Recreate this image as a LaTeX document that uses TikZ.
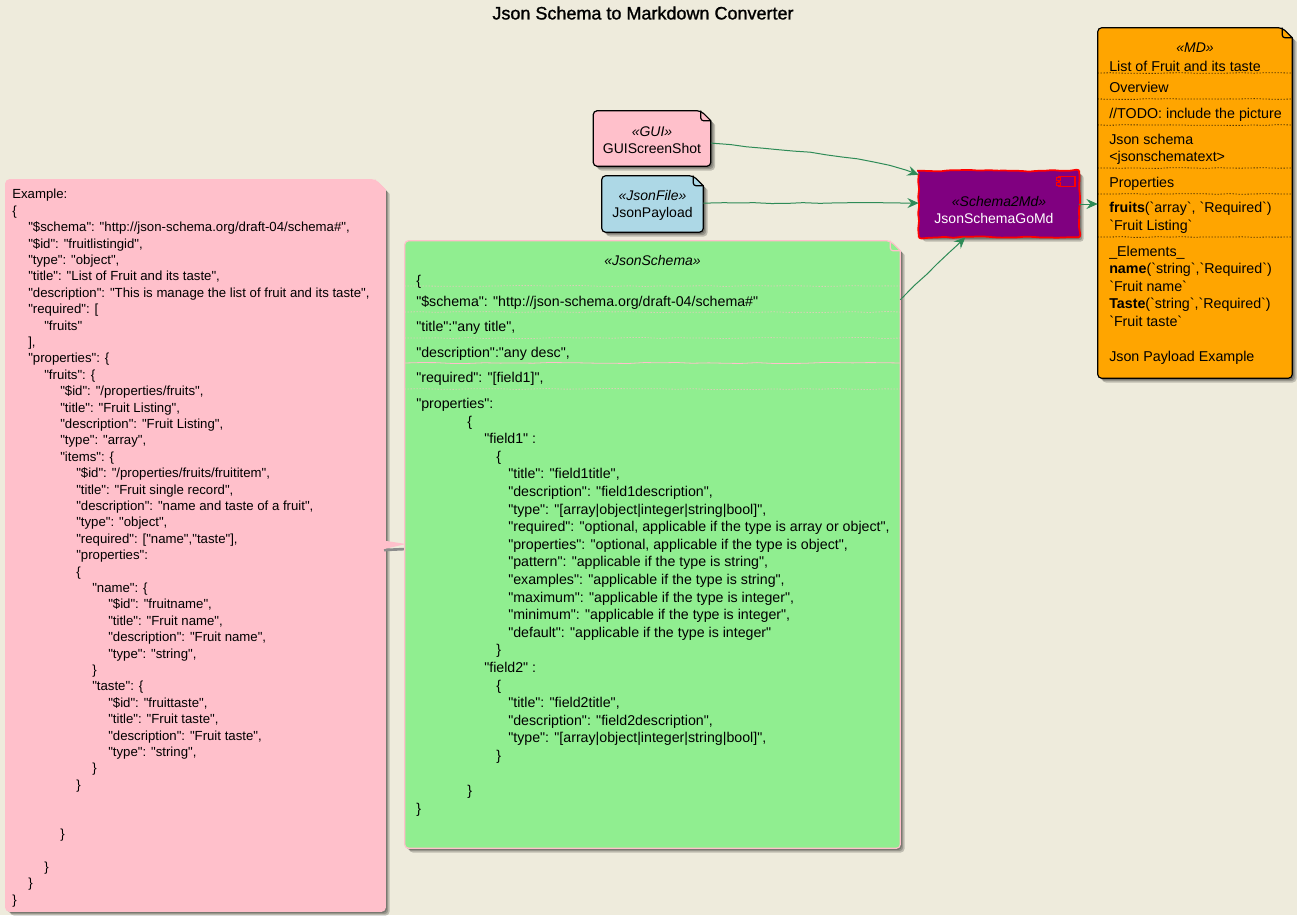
\documentclass[tikz,border=0pt]{standalone}
\usepackage{fontspec}
\usepackage{xcolor}
\usetikzlibrary{arrows.meta,calc,backgrounds,decorations.pathmorphing}
\newfontfamily\umlfont{Liberation Sans}
\newfontfamily\titlefont{Liberation Sans}[FakeBold=1.2]
\definecolor{paper}{HTML}{EEEBDC}
\definecolor{seagreen}{HTML}{2E8B57}
\definecolor{notepink}{HTML}{FFC0CB}
\definecolor{noteblue}{HTML}{ADD8E6}
\definecolor{notegreen}{HTML}{90EE90}
\definecolor{noteorange}{HTML}{FFA500}
\definecolor{boxpurple}{HTML}{800080}
\newcommand{\ind}[1]{\hspace*{#1pt}}
% outline of a note with a folded corner
\newcommand{\notepath}[1]{(#1.west) [rounded corners=3pt] |- ([xshift=-7.5pt]#1.north east) [sharp corners] -- ([yshift=-7.5pt]#1.north east) [rounded corners=3pt] |- (#1.south west) -- cycle}
\newcommand{\notebody}[3]{%
  \begin{scope}[on background layer]
    \foreach \s in {1.2,2.2,3.2} {
      \begin{scope}[transform canvas={xshift=\s pt,yshift=-\s pt}]
        \fill[black,opacity=.2] \notepath{#1};
      \end{scope}
    }
    \draw[draw=#3,fill=#2,line width=.9pt] \notepath{#1};
    \draw[draw=#3,line width=.9pt,rounded corners=2pt] ([xshift=-7.5pt]#1.north east) |- ([yshift=-7.5pt]#1.north east);
  \end{scope}}
\tikzset{
  notebox/.style={rectangle, inner sep=0pt},
  notelabel/.style={inner sep=0pt, align=center, font=\umlfont\fontsize{10.5}{12.75}\selectfont},
  mdtext/.style={anchor=base west, inner sep=0pt, font=\umlfont\fontsize{10.7}{12.75}\selectfont},
  schematext/.style={anchor=base west, inner sep=0pt, font=\umlfont\fontsize{10.65}{13.2}\selectfont},
  schemablock/.style={anchor=north west, inner sep=0pt, font=\umlfont\fontsize{10.65}{13.2}\selectfont, align=left},
  pinktext/.style={anchor=north west, inner sep=0pt, font=\umlfont\fontsize{9.9}{12.3}\selectfont, align=left},
  stereo/.style={anchor=base, inner sep=0pt, font=\umlfont\itshape\fontsize{10.5}{12.75}\selectfont},
  mdsep/.style={line width=.6pt, dash pattern=on .75pt off 1.5pt, decorate, decoration={random steps,segment length=9pt,amplitude=.3pt}},
  schemasep/.style={draw=notepink, line width=.6pt, dash pattern=on .75pt off 1.5pt, decorate, decoration={random steps,segment length=12pt,amplitude=.4pt}},
  flow/.style={seagreen, line width=.75pt, -{Stealth[length=8.5pt,width=7.5pt,inset=3pt]}, decorate, decoration={random steps,segment length=12pt,amplitude=.5pt,pre length=3pt,post length=10pt}},
}
\begin{document}
\begin{tikzpicture}[x=0.75pt,y=-0.75pt]
\pgfmathsetseed{11}
\useasboundingbox (0,0) rectangle (1297,915);
\begin{scope}[on background layer]
  \fill[paper] (0,0) rectangle (1297,915);
\end{scope}

% --- Title ---
\node[inner sep=0pt, font=\titlefont\fontsize{13.5}{16}\selectfont] (title) at (643,13) {Json Schema to Markdown Converter};

% --- Example note ---
\node[notebox, minimum width=284.3pt, minimum height=548.3pt] (example) at (195.5,545.5) {};
\notebody{example}{notepink}{notepink}
\coordinate (exampletip) at (406,544);
\begin{scope}[on background layer]
  \draw[black!45,line width=2pt] (384,550) -- (exampletip |- 0,549);
  \fill[notepink] (380,540) -- (exampletip) -- (380,550) -- cycle;
\end{scope}
\node[pinktext] (exampletext) at (12,189) {Example:\\
\{\\
\ind{12}"\$schema": "http://json-schema.org/draft-04/schema\#",\\
\ind{12}"\$id": "fruitlistingid",\\
\ind{12}"type": "object",\\
\ind{12}"title": "List of Fruit and its taste",\\
\ind{12}"description": "This is manage the list of fruit and its taste",\\
\ind{12}"required": [\\
\ind{24}"fruits"\\
\ind{12}],\\
\ind{12}"properties": \{\\
\ind{24}"fruits": \{\\
\ind{36}"\$id": "/properties/fruits",\\
\ind{36}"title": "Fruit Listing",\\
\ind{36}"description": "Fruit Listing",\\
\ind{36}"type": "array",\\
\ind{36}"items": \{\\
\ind{48}"\$id": "/properties/fruits/fruititem",\\
\ind{48}"title": "Fruit single record",\\
\ind{48}"description": "name and taste of a fruit",\\
\ind{48}"type": "object",\\
\ind{48}"required": ["name","taste"],\\
\ind{48}"properties":\\
\ind{48}\{\\
\ind{60}"name": \{\\
\ind{72}"\$id": "fruitname",\\
\ind{72}"title": "Fruit name",\\
\ind{72}"description": "Fruit name",\\
\ind{72}"type": "string",\\
\ind{60}\}\\
\ind{60}"taste": \{\\
\ind{72}"\$id": "fruittaste",\\
\ind{72}"title": "Fruit taste",\\
\ind{72}"description": "Fruit taste",\\
\ind{72}"type": "string",\\
\ind{60}\}\\
\ind{48}\}\\
~\\
~\\
\ind{36}\}\\
~\\
\ind{24}\}\\
\ind{12}\}\\
\}};

% --- Json schema note ---
\node[notebox, minimum width=371.3pt, minimum height=455.3pt] (schema) at (652.5,544.5) {};
\notebody{schema}{notegreen}{notepink}
\node[stereo] (schemastereo) at (schema.north |- 0,265) {«JsonSchema»};
\node[schematext] (schemaopen) at (416,285) {\{};
\node[schematext] (schemaid) at (416,306) {"\$schema": "http://json-schema.org/draft-04/schema\#"};
\node[schematext] (schematitle) at (416,331) {"title":"any title",};
\node[schematext] (schemadesc) at (416,357) {"description":"any desc",};
\node[schematext] (schemareq) at (416,382) {"required": "[field1]",};
\node[schemablock] (schemaprops) at (416,398) {"properties":\\
\ind{38.25}\{\\
\ind{51}"field1" :\\
\ind{60}\{\\
\ind{69}"title": "field1title",\\
\ind{69}"description": "field1description",\\
\ind{69}"type": "[array|object|integer|string|bool]",\\
\ind{69}"required": "optional, applicable if the type is array or object",\\
\ind{69}"properties": "optional, applicable if the type is object",\\
\ind{69}"pattern": "applicable if the type is string",\\
\ind{69}"examples": "applicable if the type is string",\\
\ind{69}"maximum": "applicable if the type is integer",\\
\ind{69}"minimum": "applicable if the type is integer",\\
\ind{69}"default": "applicable if the type is integer"\\
\ind{60}\}\\
\ind{51}"field2" :\\
\ind{60}\{\\
\ind{69}"title": "field2title",\\
\ind{69}"description": "field2description",\\
\ind{69}"type": "[array|object|integer|string|bool]",\\
\ind{60}\}\\
~\\
\ind{38.25}\}\\
\}};
\foreach \y in {286,312,338,389} {
  \draw[schemasep] (schema.west |- 0,\y) -- (schema.east |- 0,\y);
}
\draw[schemasep, dash pattern=on 1pt off 0pt] (schema.west |- 0,363) -- (schema.east |- 0,363);

% --- Input notes ---
\node[notebox, minimum width=87.8pt, minimum height=41.3pt] (gui) at (652,138.5) {};
\notebody{gui}{notepink}{black}
\node[notelabel] (guilabel) at (652,140) {{\itshape «GUI»}\\GUIScreenShot};
\node[notebox, minimum width=75.8pt, minimum height=42pt] (payload) at (652.5,204) {};
\notebody{payload}{noteblue}{black}
\node[notelabel] (payloadlabel) at (652.5,205.5) {{\itshape «JsonFile»}\\JsonPayload};

% --- Component ---
\node[rectangle, minimum width=120pt, minimum height=49.5pt, inner sep=0pt] (gomd) at (999,204) {};
\begin{scope}[on background layer]
  \foreach \s in {1.2,2.2,3.2} {
    \fill[black,opacity=.2,rounded corners=2pt] ([xshift=\s pt,yshift=-\s pt]gomd.north west) rectangle ([xshift=\s pt,yshift=-\s pt]gomd.south east);
  }
  \draw[draw=red, fill=boxpurple, line width=1.3pt, rounded corners=2pt, decorate, decoration={random steps,segment length=6pt,amplitude=.7pt}] (gomd.north west) rectangle (gomd.south east);
\end{scope}
\node[stereo, text=black] (gomdstereo) at (gomd.center |- 0,206) {«Schema2Md»};
\node[anchor=base, inner sep=0pt, text=white, font=\umlfont\fontsize{10.5}{12.75}\selectfont] (gomdname) at (994,223) {JsonSchemaGoMd};
\node[draw=red, line width=.9pt, minimum width=12pt, minimum height=7pt, inner sep=0pt] (gomdicon) at (1067,181.5) {};
\node[draw=red, fill=boxpurple, line width=.7pt, minimum width=3pt, minimum height=2pt, inner sep=0pt] (gomdtaba) at (gomdicon.west |- 0,179) {};
\node[draw=red, fill=boxpurple, line width=.7pt, minimum width=3pt, minimum height=2pt, inner sep=0pt] (gomdtabb) at (gomdicon.west |- 0,184) {};

% --- Markdown note ---
\node[notebox, minimum width=145.5pt, minimum height=262.5pt] (md) at (1195,203) {};
\notebody{md}{noteorange}{black}
\node[stereo] (mdstereo) at (md.north |- 0,52) {«MD»};
\node[mdtext] (mdtitle) at (1109,71) {List of Fruit and its taste};
\node[mdtext] (mdover) at (1109,92) {Overview};
\node[mdtext] (mdtodo) at (1109,118) {//TODO: include the picture};
\node[mdtext] (mdjson) at (1109,144) {Json schema};
\node[mdtext] (mdjsontext) at (1109,161) {<jsonschematext>};
\node[mdtext] (mdprops) at (1109,187) {Properties};
\node[mdtext] (mdfruits) at (1109,212) {\textbf{fruits}(`array`, `Required`)};
\node[mdtext] (mdlisting) at (1109,230) {`Fruit Listing`};
\node[mdtext] (mdelem) at (1109,256) {\_Elements\_};
\node[mdtext] (mdname) at (1109,273) {\textbf{name}(`string`,`Required`)};
\node[mdtext] (mdfname) at (1109,291) {`Fruit name`};
\node[mdtext] (mdtaste) at (1109,308) {\textbf{Taste}(`string`,`Required`)};
\node[mdtext] (mdftaste) at (1109,326) {`Fruit taste`};
\node[mdtext] (mdpayload) at (1109,361) {Json Payload Example};
\foreach \y in {73,99,125,168,194,237} {
  \draw[mdsep] (md.west |- 0,\y) -- (md.east |- 0,\y);
}

% --- Connectors ---
\draw[flow] ([yshift=-3.4pt]gui.east) .. controls (790,150) and (870,157) .. ([yshift=-3pt]gomd.north west);
\draw[flow] ([yshift=.7pt]payload.east) -- ([yshift=.7pt]gomd.west);
\draw[flow] ([yshift=-44.2pt]schema.north east) -- ([xshift=35pt]gomd.south west);
\draw[seagreen, line width=.75pt, -{Stealth[length=8.5pt,width=7.5pt,inset=3pt]}] (gomd.east) -- (md.west |- gomd.east);
\end{tikzpicture}
\end{document}
